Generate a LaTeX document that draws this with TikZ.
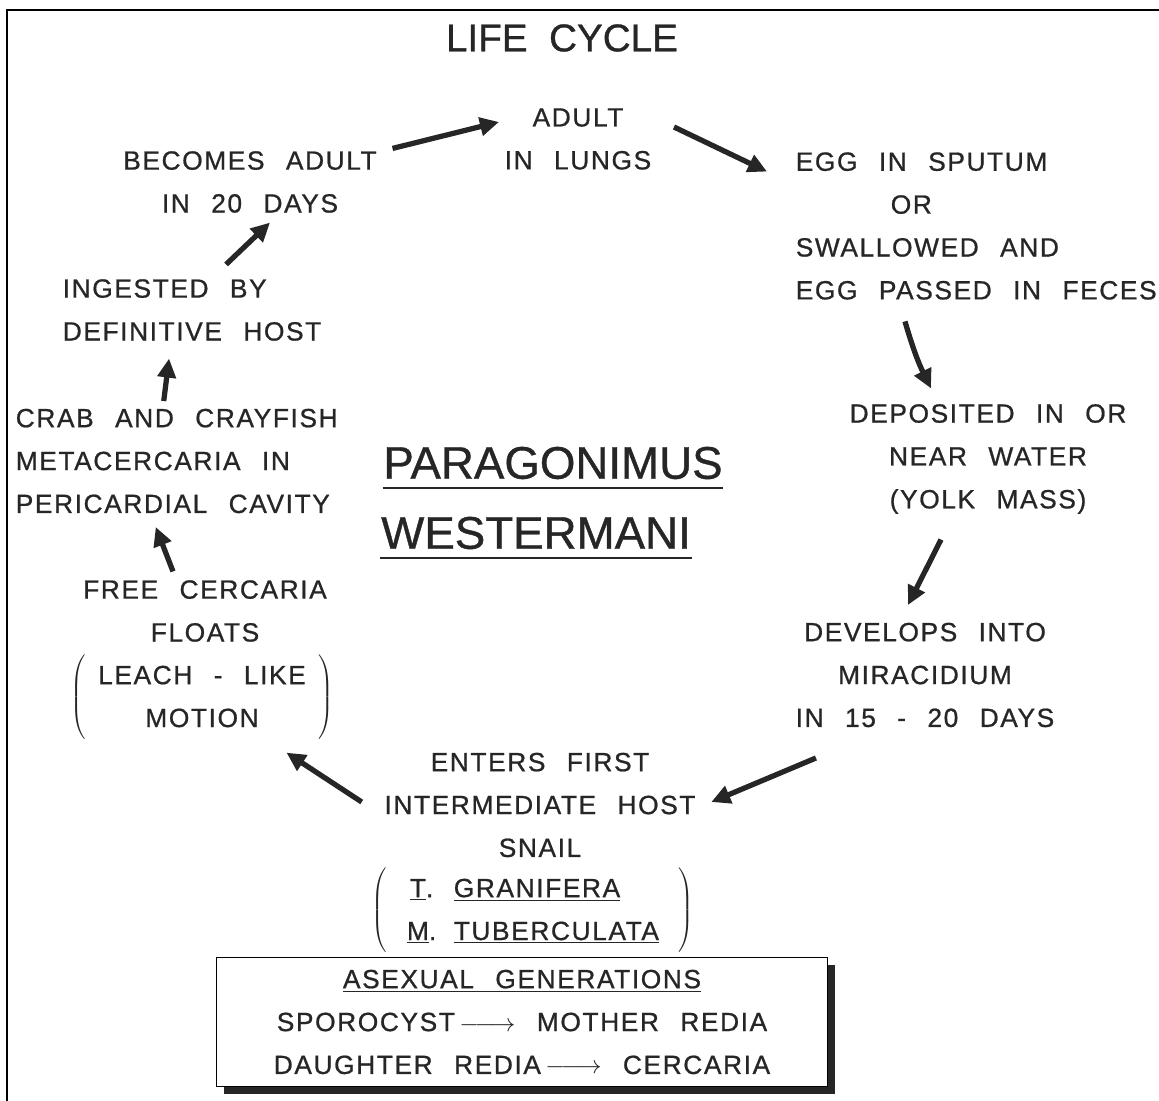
\documentclass[tikz,border=0pt]{standalone}
\usepackage{fontspec}
\setmainfont{Liberation Sans}[LetterSpace=6,WordSpace=2.4,FakeBold=0.8]
\newfontfamily\titlefont{Liberation Sans}[WordSpace=2,FakeBold=0.8]
\usetikzlibrary{arrows.meta,shadows}
\newcommand{\paso}{\,$\relbar\joinrel\relbar\joinrel\rightarrow$\ }

\begin{document}
\begin{tikzpicture}[x=0.02cm,y=-0.02cm,line width=0.9pt,>={Triangle[length=3.8mm,width=3.6mm]},
  txt/.style={inner sep=0pt,align=center,text=black!85,font=\fontsize{15}{24.4}\selectfont},
  cyc/.style={line width=3pt,black!85,->},
  uline/.style={line width=1.6pt,black!85}]
  \useasboundingbox (0,0) rectangle (1159,1101);
  % marco de la pagina
  \draw[line width=1.7pt] (7,1101) -- (7,10) -- (1159,10);
  \node[txt,font=\titlefont\fontsize{22}{26}\selectfont] (title) at (562,38){LIFE CYCLE};
  % etapas del ciclo
  \node[txt] (adult) at (578,139){ADULT\\IN LUNGS};
  \node[txt] (becomes) at (250,182){BECOMES ADULT\\IN 20 DAYS};
  \node[txt,align=left,anchor=west] (egg) at (795,226){EGG IN SPUTUM\\\hspace*{1.9cm}OR\\SWALLOWED AND\\EGG PASSED IN FECES};
  \node[txt,align=left,anchor=west] (ingested) at (62,310){INGESTED BY\\DEFINITIVE HOST};
  \node[txt,align=left,anchor=west] (crab) at (15,461){CRAB AND CRAYFISH\\METACERCARIA IN\\PERICARDIAL CAVITY};
  \node[txt] (deposited) at (988,459){DEPOSITED IN OR\\NEAR WATER\\(YOLK MASS)};
  \node[txt] (free) at (205,611){FREE CERCARIA\\FLOATS};
  \node[txt] (motion) at (202,697){$\left(\begin{tabular}{@{\hspace{0.25cm}}c@{\hspace{0.25cm}}}LEACH - LIKE\\MOTION\end{tabular}\right)$};
  \node[txt] (develops) at (925,675){DEVELOPS INTO\\MIRACIDIUM\\IN 15 - 20 DAYS};
  \node[txt] (enters) at (540,805){ENTERS FIRST\\INTERMEDIATE HOST\\SNAIL};
  \node[txt] (snails) at (533,910){$\left(\begin{tabular}{@{\hspace{0.4cm}}c@{\hspace{0.35cm}}l@{\hspace{0.4cm}}}\underline{T}. & \underline{GRANIFERA}\\\underline{M}. & \underline{TUBERCULATA}\end{tabular}\right)$};
  % nombre del parasito
  \node[txt,font=\titlefont\fontsize{26}{30}\selectfont] (genus) at (553,463){PARAGONIMUS};
  \node[txt,font=\titlefont\fontsize{26}{30}\selectfont] (species) at (536,533){WESTERMANI};
  \draw[uline] ([yshift=-0.16cm]genus.south west) -- ([yshift=-0.16cm]genus.south east);
  \draw[uline] ([yshift=-0.16cm]species.south west) -- ([yshift=-0.16cm]species.south east);
  % generaciones asexuales
  \node[txt,draw,line width=0.8pt,fill=white,minimum width=12.22cm,minimum height=2.58cm,
    drop shadow={shadow xshift=0.15cm,shadow yshift=-0.15cm,fill=black!85,opacity=1}] (asexual) at (522,1022)
    {\underline{ASEXUAL GENERATIONS}\\SPOROCYST\paso MOTHER REDIA\\DAUGHTER REDIA\paso CERCARIA};
  % flechas del ciclo
  \draw[cyc] ([xshift=0.3cm,yshift=0.04cm]becomes.north east) -- ([xshift=-0.1cm,yshift=0.34cm]adult.west);
  \draw[cyc] ([xshift=0.44cm,yshift=0.24cm]adult.east) -- ([xshift=-0.56cm,yshift=-0.4cm]egg.north west);
  \draw[cyc] ([xshift=2.2cm,yshift=-0.42cm]egg.south west) to[bend right=5] ([xshift=-1.14cm,yshift=0.3cm]deposited.north);
  \draw[cyc] ([xshift=-0.94cm,yshift=-0.5cm]deposited.south) -- ([xshift=-0.34cm,yshift=0.34cm]develops.north);
  \draw[cyc] ([xshift=0.42cm,yshift=-0.6cm]develops.south west) -- ([xshift=0.3cm,yshift=0.06cm]enters.east);
  \draw[cyc] ([xshift=-0.44cm,yshift=0.06cm]enters.west) -- ([xshift=-0.96cm,yshift=-0.24cm]motion.south east);
  \draw[cyc] ([xshift=-0.64cm,yshift=0.16cm]free.north) -- ([xshift=-0.42cm,yshift=-0.26cm]crab.south);
  \draw[cyc] ([xshift=-0.26cm,yshift=0.14cm]crab.north) -- ([xshift=-0.46cm,yshift=-0.34cm]ingested.south);
  \draw[cyc] ([xshift=0.68cm,yshift=0.28cm]ingested.north) -- ([xshift=0.4cm,yshift=-0.18cm]becomes.south);
\end{tikzpicture}
\end{document}
